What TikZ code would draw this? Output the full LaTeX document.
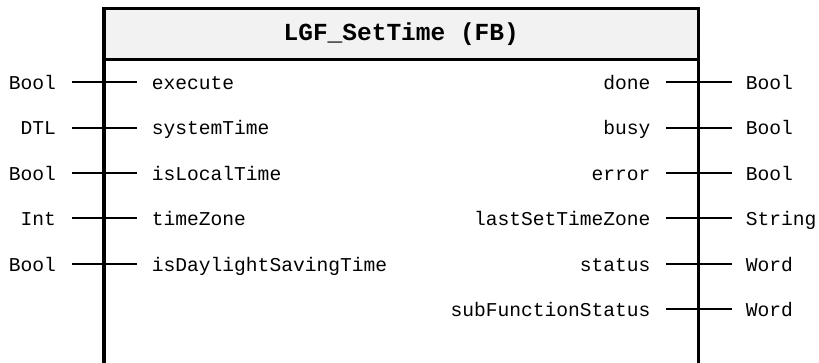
\documentclass[tikz,border=0pt]{standalone}
\usepackage{fontspec}
\newfontfamily\pinfont{Liberation Mono}
\begin{document}
\begin{tikzpicture}[x=1pt,y=-1pt,
  pinlabel/.style={font=\pinfont\fontsize{19.6}{22}\selectfont, inner sep=0pt},
  titlelabel/.style={font=\pinfont\bfseries\fontsize{24.5}{28}\selectfont, inner sep=0pt},
  pinline/.style={line width=2pt},
  boxline/.style={line width=3.5pt, line join=miter}]
\useasboundingbox (0,0) rectangle (819,362);
% header
\fill[gray!10] (104,8.3) rectangle (698.5,59.3);
\node[titlelabel, anchor=base] (title) at (401.25,40) {LGF\_SetTime (FB)};
% inputs
\foreach \i/\t/\n in {1/Bool/execute, 2/DTL/systemTime, 3/Bool/isLocalTime, 4/Int/timeZone, 5/Bool/isDaylightSavingTime} {
  \pgfmathsetmacro\yy{82.3+45.35*(\i-1)}
  \coordinate (inA\i) at (72,\yy);
  \coordinate (inB\i) at (136.7,\yy);
  \draw[pinline] (inA\i) -- (inB\i);
  \node[pinlabel, anchor=base east] (intype\i) at (56,\yy+7.3) {\t};
  \node[pinlabel, anchor=base west] (inname\i) at (151.7,\yy+7.3) {\n};
}
% outputs
\foreach \i/\n/\t in {1/done/Bool, 2/busy/Bool, 3/error/Bool, 4/lastSetTimeZone/String, 5/status/Word, 6/subFunctionStatus/Word} {
  \pgfmathsetmacro\yy{82.3+45.35*(\i-1)}
  \coordinate (outA\i) at (666,\yy);
  \coordinate (outB\i) at (731.7,\yy);
  \draw[pinline] (outA\i) -- (outB\i);
  \node[pinlabel, anchor=base east] (outname\i) at (650.7,\yy+7.3) {\n};
  \node[pinlabel, anchor=base west] (outtype\i) at (745.7,\yy+7.3) {\t};
}
% block outline (open at the bottom)
\draw[boxline] (104,370) -- (104,8.3) -- (698.5,8.3) -- (698.5,370);
\draw[boxline] (104,59.3) -- (698.5,59.3);
\end{tikzpicture}
\end{document}
